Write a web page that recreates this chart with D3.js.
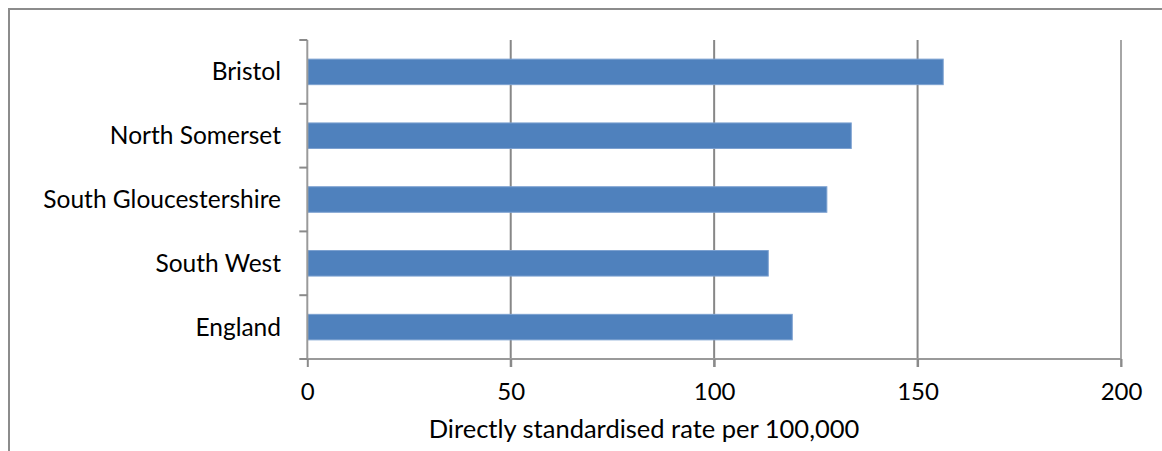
<!DOCTYPE html>
<html>
<head>
<meta charset="utf-8">
<script src="https://cdn.jsdelivr.net/npm/d3@7"></script>
<style>
  html, body { margin: 0; padding: 0; background: #fff; }
  svg { display: block; }
  text { font-family: Lato, "Open Sans", sans-serif; fill: #000; }
</style>
</head>
<body>
<svg id="chart" width="1162" height="451"></svg>
<script>
const categories = ["Bristol", "North Somerset", "South Gloucestershire", "South West", "England"];
const values = [156.3, 133.7, 127.7, 113.3, 119.2];
const xTicks = [0, 50, 100, 150, 200];
const xTitle = "Directly standardised rate per 100,000";

const svg = d3.select("#chart");
const W = 1162, H = 451;
const m = { left: 307.3, right: 1121, top: 40, bottom: 359 };

// outer frame
svg.append("rect").attr("x", 9).attr("y", 9).attr("width", W + 20).attr("height", H + 20)
  .attr("fill", "none").attr("stroke", "#8c8c8c").attr("stroke-width", 2);

const x = d3.scaleLinear().domain([0, 200]).range([m.left, m.right]);
const y = d3.scaleBand().domain(categories).range([m.top, m.bottom]).paddingInner(0.6).paddingOuter(0.3);

// gridlines
svg.append("g").selectAll("line").data(xTicks.filter(d => d > 0)).join("line")
  .attr("x1", d => x(d)).attr("x2", d => x(d))
  .attr("y1", m.top).attr("y2", m.bottom + 8)
  .attr("stroke", d => d === 200 ? "#a6a6a6" : "#878787").attr("stroke-width", 2);

// bars
svg.append("g").selectAll("rect").data(categories).join("rect")
  .attr("x", x(0) + 0.5)
  .attr("y", d => y(d))
  .attr("width", (d, i) => x(values[i]) - x(0) - 0.5)
  .attr("height", y.bandwidth())
  .attr("fill", "#4f81bd")
  .attr("stroke", "#7ba0d0").attr("stroke-width", 1);

// x axis line + ticks
const xAxis = d3.axisBottom(x).tickValues(xTicks).tickSize(8).tickPadding(16);
const gx = svg.append("g").attr("transform", `translate(0,${m.bottom})`).call(xAxis);
gx.select(".domain").attr("stroke", "#9a9a9a").attr("stroke-width", 2).attr("d", `M${m.left},0H${m.right}`);
gx.selectAll(".tick line").attr("stroke", "#8a8a8a").attr("stroke-width", 2);
gx.selectAll(".tick text").style("font-size", "24px").style("font-family", "Lato, 'Open Sans', sans-serif").attr("fill", "#000");

// y axis
const yEdges = categories.map(c => y(c) - y.step() * 0.3).concat([m.bottom]);
svg.append("line").attr("x1", m.left).attr("x2", m.left).attr("y1", m.top).attr("y2", m.bottom)
  .attr("stroke", "#9a9a9a").attr("stroke-width", 2);
svg.append("g").selectAll("line").data(yEdges).join("line")
  .attr("x1", m.left - 8).attr("x2", m.left)
  .attr("y1", d => d).attr("y2", d => d)
  .attr("stroke", "#8a8a8a").attr("stroke-width", 2);

svg.append("g").selectAll("text").data(categories).join("text")
  .attr("x", 281)
  .attr("y", d => y(d) + y.bandwidth() / 2)
  .attr("dy", "0.35em")
  .attr("text-anchor", "end")
  .style("font-size", "24.5px")
  .text(d => d);

svg.append("text").attr("x", (429 + 859) / 2).attr("y", 438)
  .attr("text-anchor", "middle").style("font-size", "25.5px").text(xTitle);
</script>
</body>
</html>
